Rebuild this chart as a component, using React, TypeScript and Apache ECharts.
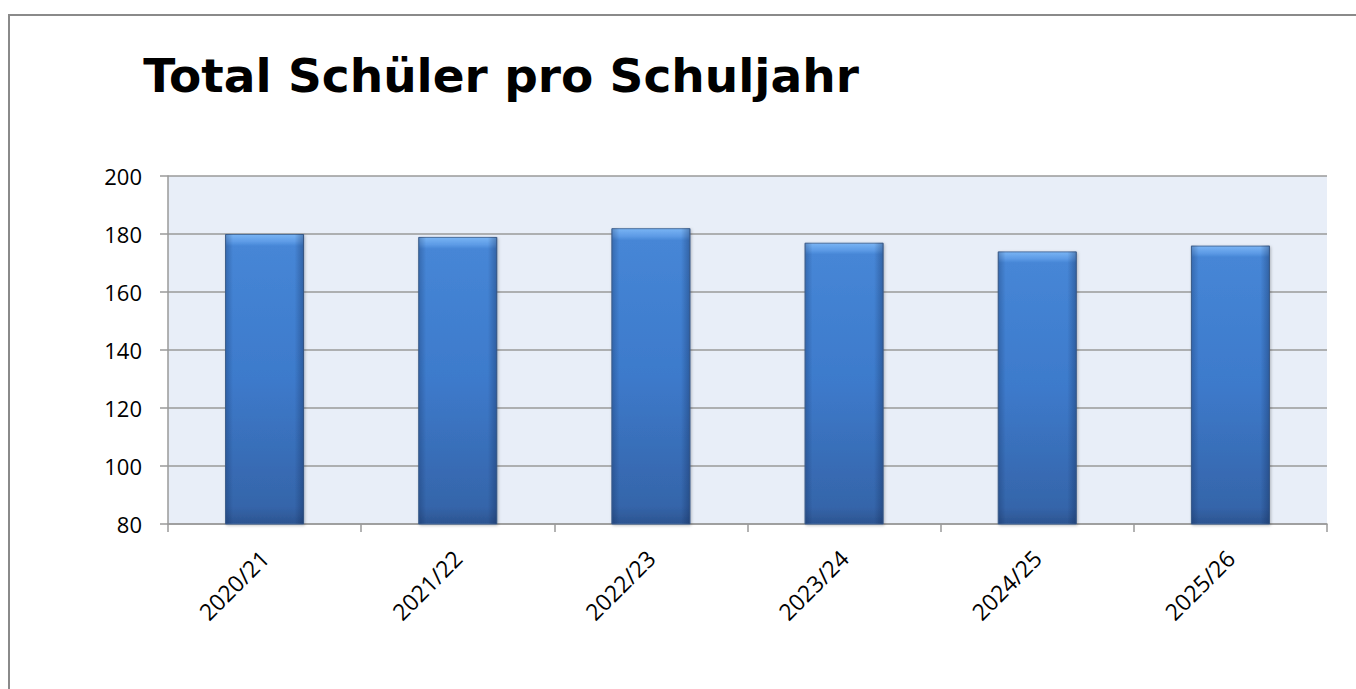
import React, { useEffect, useRef } from "react";
import * as echarts from "echarts";

const categories = ["2020/21", "2021/22", "2022/23", "2023/24", "2024/25", "2025/26"];
const values = [180, 179, 182, 177, 174, 176];
const yMin = 80;
const yMax = 200;
const yStep = 20;
const title = "Total Schüler pro Schuljahr";

export default function App() {
  const ref = useRef<HTMLDivElement>(null);
  useEffect(() => {
    const chart = echarts.init(ref.current!, null, { renderer: "svg" });
    const font = "'Open Sans', Lato, sans-serif";
    chart.setOption({
      animation: false,
      backgroundColor: "#ffffff",
      title: {
        text: title,
        left: 496,
        top: 47,
        textAlign: "center",
        textStyle: { fontFamily: "'DejaVu Sans', 'Open Sans', sans-serif", fontWeight: "bold", fontSize: 47, color: "#000000" },
      },
      graphic: [
        {
          type: "rect",
          shape: { x: 9, y: 15, width: 1400, height: 800 },
          style: { fill: "none", stroke: "#8a8a8a", lineWidth: 2 },
          silent: true,
        },
      ],
      grid: {
        left: 168,
        right: 29,
        top: 176,
        bottom: 165,
        show: true,
        backgroundColor: "#e8eef8",
        borderWidth: 0,
      },
      xAxis: {
        type: "category",
        data: categories,
        boundaryGap: true,
        axisLine: { show: true, lineStyle: { color: "#9a9a9a", width: 1.5 } },
        axisTick: { show: true, length: 8, alignWithLabel: false, lineStyle: { color: "#9a9a9a", width: 1.5 } },
        axisLabel: {
          rotate: 45,
          margin: 30,
          fontFamily: font,
          fontSize: 23,
          color: "#000000",
        },
      },
      yAxis: {
        type: "value",
        min: yMin,
        max: yMax,
        interval: yStep,
        axisLine: { show: true, lineStyle: { color: "#9a9a9a", width: 1.5 } },
        axisTick: { show: true, length: 8, lineStyle: { color: "#9a9a9a", width: 1.5 } },
        splitLine: { show: true, lineStyle: { color: "#9a9a9a", width: 1.5 } },
        axisLabel: {
          margin: 26,
          fontFamily: font,
          fontSize: 22,
          color: "#000000",
        },
      },
      series: [
        {
          type: "bar",
          data: values,
          barWidth: 79,
          itemStyle: {
            color: {
              type: "linear",
              x: 0,
              y: 0,
              x2: 0,
              y2: 1,
              colorStops: [
                { offset: 0, color: "#79b4f4" },
                { offset: 0.025, color: "#5d9be6" },
                { offset: 0.04, color: "#4686d6" },
                { offset: 0.5, color: "#3d7acb" },
                { offset: 0.94, color: "#3565aa" },
                { offset: 1, color: "#2c5490" },
              ],
            },
            borderColor: "#4a6f9f",
            borderWidth: 1,
            shadowColor: "rgba(0,0,0,0.25)",
            shadowBlur: 3,
            shadowOffsetX: 1,
            shadowOffsetY: 1,
          },
        },
        {
          type: "bar",
          data: values,
          barWidth: 79,
          barGap: "-100%",
          silent: true,
          itemStyle: {
            color: {
              type: "linear",
              x: 0,
              y: 0,
              x2: 1,
              y2: 0,
              colorStops: [
                { offset: 0, color: "rgba(10,30,70,0.28)" },
                { offset: 0.1, color: "rgba(10,30,70,0)" },
                { offset: 0.88, color: "rgba(10,30,70,0)" },
                { offset: 1, color: "rgba(10,30,70,0.35)" },
              ],
            },
          },
        },
      ],
    });
    return () => chart.dispose();
  }, []);
  return (
    <div
      ref={ref}
      style={{ position: "fixed", left: 0, top: 0, width: 1356, height: 689 }}
    />
  );
}
